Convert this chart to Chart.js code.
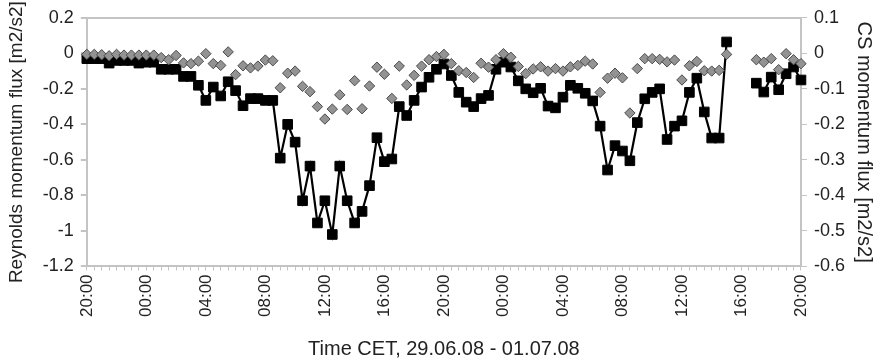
<!DOCTYPE html>
<html lang="en">

<head>
    <meta charset="UTF-8">
    <title>Momentum flux</title>
    <script src="https://cdn.jsdelivr.net/npm/chart.js"></script>
    <style>
        body { margin: 0; background: #fff; }
    </style>
</head>

<body>
    <canvas id="grafico" width="883" height="363"></canvas>

    <script>
        // half-hourly steps from 20:00 on 29.06 to 20:00 on 01.07
        const startHour = 20;
        const steps = 97;
        const horas = [];
        for (let i = 0; i < steps; i++) {
            const h = (startHour + Math.floor(i / 2)) % 24;
            const m = i % 2 ? "30" : "00";
            horas.push(String(h).padStart(2, "0") + ":" + m);
        }

        // Reynolds momentum flux [m2/s2], left axis
        const reynolds = [
            -0.03, -0.03, -0.03, -0.055, -0.04, -0.04, -0.04, -0.055, -0.05, -0.05,
            -0.09, -0.09, -0.09, -0.13, -0.13, -0.18, -0.265, -0.19, -0.24, -0.16,
            -0.21, -0.295, -0.255, -0.255, -0.265, -0.265, -0.59, -0.40, -0.50, -0.83,
            -0.635, -0.955, -0.83, -1.02, -0.635, -0.83, -0.955, -0.89, -0.745, -0.475,
            -0.61, -0.595, -0.30, -0.35, -0.265, -0.19, -0.135, -0.09, -0.06, -0.125,
            -0.22, -0.275, -0.30, -0.255, -0.237, -0.09, -0.05, -0.077, -0.155, -0.20,
            -0.222, -0.197, -0.297, -0.307, -0.247, -0.18, -0.197, -0.225, -0.268, -0.41,
            -0.657, -0.52, -0.55, -0.605, -0.39, -0.256, -0.22, -0.20, -0.485, -0.41,
            -0.38, -0.22, -0.14, -0.33, -0.477, -0.477, 0.064, null, null, null,
            -0.168, -0.218, -0.134, -0.205, -0.115, -0.077, -0.15
        ];

        // CS momentum flux [m2/s2], right axis
        const cs = [
            -0.003, -0.003, -0.004, -0.007, -0.003, -0.005, -0.005, -0.005, -0.005, -0.005,
            -0.012, -0.018, -0.006, -0.027, -0.029, -0.022, -0.001, -0.029, -0.034, 0.004,
            -0.06, -0.035, -0.041, -0.036, -0.019, -0.021, -0.097, -0.056, -0.05, -0.093,
            -0.108, -0.15, -0.185, -0.157, -0.117, -0.158, -0.077, -0.156, -0.092, -0.039,
            -0.059, -0.127, -0.036, -0.089, -0.062, -0.036, -0.018, -0.009, -0.003, -0.029,
            -0.049, -0.054, -0.068, -0.028, -0.039, -0.018, -0.001, -0.011, -0.037, -0.057,
            -0.044, -0.038, -0.05, -0.043, -0.05, -0.038, -0.034, -0.022, -0.03, -0.11,
            -0.07, -0.056, -0.069, -0.168, -0.043, -0.015, -0.015, -0.017, -0.024, -0.019,
            -0.075, -0.035, -0.023, -0.049, -0.05, -0.048, -0.003, null, null, null,
            -0.018, -0.025, -0.015, -0.046, -0.001, -0.018, -0.029
        ];

        const cinzaEixo = "#c4c4c4";
        const fonte = "'Liberation Sans', Arial, sans-serif";

        function formatar(v) {
            return String(Number(v.toFixed(1)));
        }

        new Chart(document.getElementById("grafico"), {
            type: "line",
            data: {
                labels: horas,
                datasets: [
                    {
                        label: "Reynolds",
                        data: reynolds,
                        yAxisID: "y",
                        borderColor: "#000",
                        borderWidth: 2.2,
                        pointStyle: "rect",
                        pointRadius: 6.8,
                        pointBackgroundColor: "#000",
                        pointBorderColor: "#000",
                        pointBorderWidth: 1,
                        spanGaps: false,
                        order: 2
                    },
                    {
                        label: "CS",
                        data: cs,
                        yAxisID: "y2",
                        showLine: false,
                        pointStyle: "rectRot",
                        pointRadius: 5.2,
                        pointBackgroundColor: "#939393",
                        pointBorderColor: "#4a4a4a",
                        pointBorderWidth: 1,
                        order: 1
                    }
                ]
            },
            options: {
                responsive: false,
                animation: false,
                layout: { padding: { top: 12, right: 3, bottom: 2, left: 5 } },
                plugins: {
                    legend: { display: false },
                    tooltip: { enabled: false }
                },
                scales: {
                    x: {
                        offset: false,
                        border: { color: cinzaEixo, width: 2 },
                        grid: { drawOnChartArea: false, color: cinzaEixo, tickLength: 4, lineWidth: 1 },
                        ticks: {
                            autoSkip: false,
                            minRotation: 90,
                            maxRotation: 90,
                            padding: 4,
                            color: "#222",
                            font: { family: fonte, size: 17 },
                            callback: (v, i) => (i % 8 === 0 ? horas[i] : "")
                        },
                        title: {
                            display: true,
                            text: "Time CET, 29.06.08 - 01.07.08",
                            color: "#222",
                            font: { family: fonte, size: 20 },
                            padding: { top: 16, bottom: 0 }
                        }
                    },
                    y: {
                        position: "left",
                        min: -1.2,
                        max: 0.2,
                        border: { color: cinzaEixo, width: 2 },
                        grid: {
                            color: c => (Math.abs(c.tick.value - 0.2) < 1e-6 ? cinzaEixo : "transparent"),
                            tickColor: cinzaEixo,
                            lineWidth: 2,
                            tickLength: 6
                        },
                        ticks: {
                            stepSize: 0.2,
                            padding: 7,
                            color: "#222",
                            font: { family: fonte, size: 18 },
                            callback: v => formatar(v)
                        },
                        title: {
                            display: true,
                            text: "Reynolds momentum flux [m2/s2]",
                            color: "#222",
                            font: { family: fonte, size: 19 },
                            padding: { top: 0, bottom: 8 }
                        }
                    },
                    y2: {
                        position: "right",
                        min: -0.6,
                        max: 0.1,
                        border: { color: cinzaEixo, width: 2 },
                        grid: { drawOnChartArea: false, color: cinzaEixo, tickLength: 6 },
                        ticks: {
                            stepSize: 0.1,
                            padding: 7,
                            color: "#222",
                            font: { family: fonte, size: 18 },
                            callback: v => formatar(v)
                        },
                        title: {
                            display: true,
                            text: "CS momentum flux [m2/s2]",
                            color: "#222",
                            font: { family: fonte, size: 20 },
                            padding: { top: 4, bottom: 0 }
                        }
                    }
                }
            }
        });
    </script>
</body>

</html>
